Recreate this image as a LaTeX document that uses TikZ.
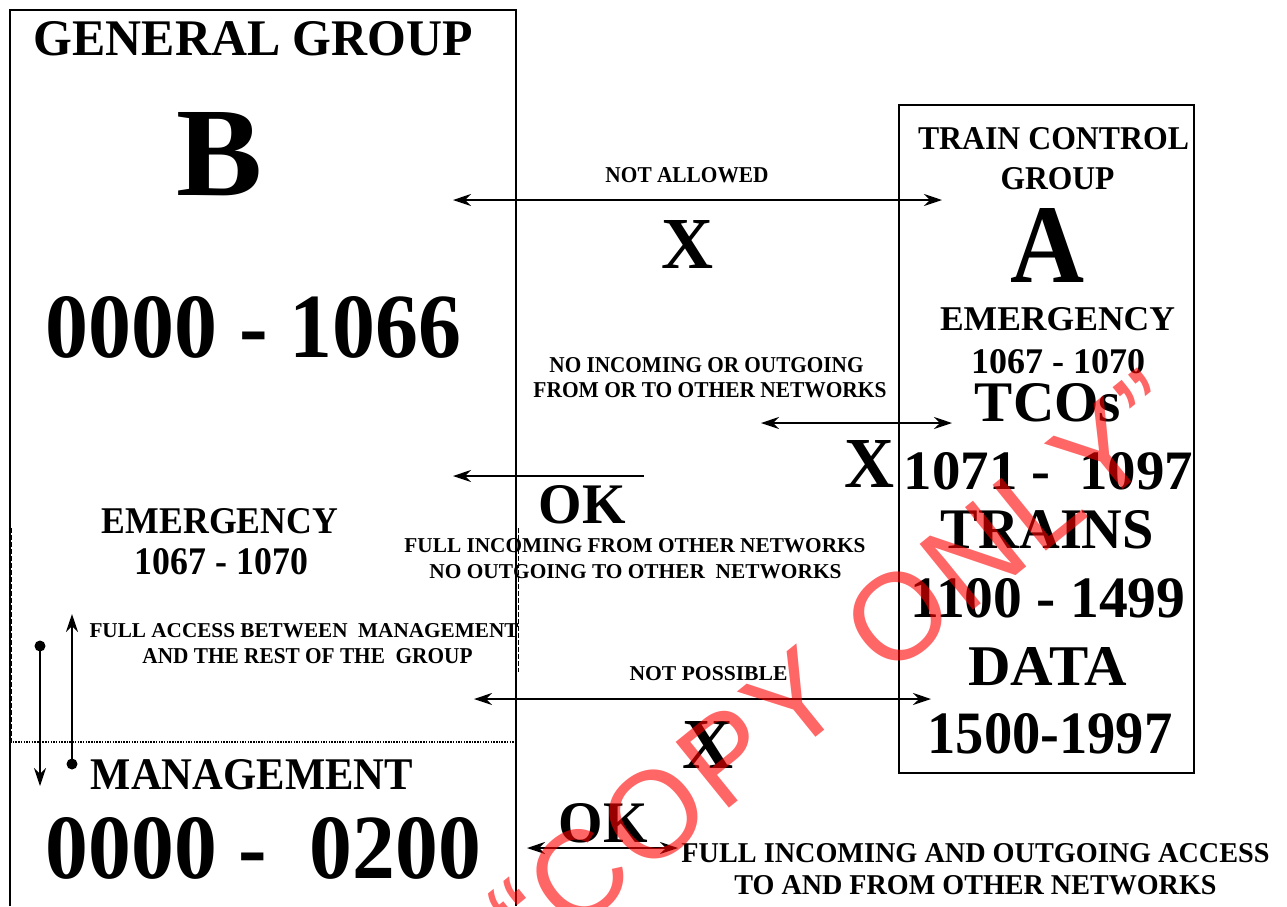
\documentclass[tikz,border=0pt]{standalone}
\usepackage{fontspec}
\setmainfont{Liberation Serif}
\newfontfamily\wmfont{Liberation Sans}
\usepackage{graphicx}
\usetikzlibrary{arrows.meta}
\newcommand{\fitt}[3]{\resizebox{#1pt}{#2pt}{\bfseries #3}}
\newcommand{\wg}{\hspace{5pt}}
\begin{document}
\begin{tikzpicture}[x=1pt,y=-1pt,
  tx/.style={inner sep=0pt, outer sep=0pt, anchor=base},
  frame/.style={line width=1.2pt},
  tipA/.tip={Stealth[length=18pt,width=12pt,inset=6pt]},
  arr/.style={line width=2pt, -tipA},
  darr/.style={line width=2pt, tipA-tipA},
  dotnode/.style={circle, fill=black, inner sep=0pt, minimum size=11pt},
  dotline/.style={line width=2pt, dash pattern=on 1.5pt off 1.2pt},
  dashline/.style={line width=1pt, dash pattern=on 5pt off 2pt},
  wm/.style={text=red, text opacity=0.6, font=\wmfont\fontsize{123}{123}\selectfont, inner sep=0pt, rotate=39}
]
\useasboundingbox (0,0) rectangle (1287,906);
\fill[white] (0,0) rectangle (1287,906);

% general group frame
\coordinate (gtl) at (10,10);
\coordinate (gtr) at (516,10);
\coordinate (gbl) at (10,906);
\coordinate (gbr) at (516,906);
\draw[frame] (gbl) -- (gtl) -- (gtr) -- (gbr);

% emergency / management separators
\coordinate (sepl) at (10,742);
\coordinate (sepr) at (516,742);
\draw[dotline] (sepl) -- (sepr);
\coordinate (dl1) at (11,528);
\coordinate (dl2) at (11,742);
\draw[dashline] (dl1) -- (dl2);
\coordinate (dr1) at (518.5,528);
\coordinate (dr2) at (518.5,672);
\draw[dashline] (dr1) -- (dr2);

% train control group frame
\node[draw, frame, minimum width=295pt, minimum height=668pt, inner sep=0pt] (tcg) at (1046.5,439) {};

% texts left
\node[tx] (t1) at (253.5,55) {\fitt{439}{34}{GENERAL GROUP}};
\node[tx] (t2) at (220,195) {\fitt{86}{83}{B}};
\node[tx] (t3) at (253.5,357) {\fitt{415}{61}{0000 - 1066}};
\node[tx] (t23) at (220,533) {\fitt{236}{25}{EMERGENCY}};
\node[tx] (t24) at (221.5,574) {\fitt{173}{26}{1067 - 1070}};
\node[tx] (t25) at (304,637) {\fitt{429}{14}{FULL ACCESS BETWEEN\ \ MANAGEMENT}};
\node[tx] (t26) at (307.5,663) {\fitt{330}{15}{AND THE REST OF THE\ \ GROUP}};
\node[tx] (t29) at (252,789) {\fitt{322}{30}{MANAGEMENT}};
\node[tx] (t30) at (263.5,878) {\fitt{435}{61}{0000 -\ \ 0200}};

% texts middle
\node[tx] (t4) at (687,182) {\fitt{163}{15}{NOT ALLOWED}};
\node[tx] (t5) at (687.5,268) {\fitt{52}{48}{X}};
\node[tx] (t17) at (706.5,372) {\fitt{314}{15}{NO INCOMING OR OUTGOING}};
\node[tx] (t18) at (710,397) {\fitt{353}{15}{FROM OR TO OTHER NETWORKS}};
\node[tx] (t19) at (869.5,487) {\fitt{50}{47}{X}};
\node[tx] (t20) at (582,523) {\fitt{87}{38}{OK}};
\node[tx] (t21) at (635,552) {\fitt{461}{14}{FULL INCOMING FROM OTHER NETWORKS}};
\node[tx] (t22) at (635.5,578) {\fitt{412}{14}{NO OUTGOING TO OTHER\ \ NETWORKS}};
\node[tx] (t27) at (708.5,680) {\fitt{158}{14}{NOT POSSIBLE}};
\node[tx] (t28) at (708,768) {\fitt{51}{47}{X}};
\node[tx] (t31) at (603,842) {\fitt{89}{39}{OK}};
\node[tx] (t32) at (975.5,862) {\fitt{588}{19}{FULL INCOMING AND OUTGOING ACCESS}};
\node[tx] (t33) at (975.5,894) {\fitt{482}{19}{TO AND FROM OTHER NETWORKS}};

% texts right box
\node[tx] (t6) at (1053.5,149) {\fitt{271}{22}{TRAIN CONTROL}};
\node[tx] (t7) at (1057.5,189) {\fitt{114}{22}{GROUP}};
\node[tx] (t8) at (1048,282) {\fitt{74}{74}{A}};
\node[tx] (t9) at (1057.5,330) {\fitt{235}{23}{EMERGENCY}};
\node[tx] (t10) at (1058,373) {\fitt{174}{24}{1067 - 1070}};
\node[tx] (t11) at (1048,421) {\fitt{146}{38}{TCOs}};
\node[tx] (t12) at (1048.5,489) {\fitt{289}{37}{1071 -\ \ 1097}};
\node[tx] (t13) at (1047.5,548) {\fitt{213}{38}{TRAINS}};
\node[tx] (t14) at (1048,617) {\fitt{275}{39}{1100 - 1499}};
\node[tx] (t15) at (1047.5,685) {\fitt{158}{38}{DATA}};
\node[tx] (t16) at (1050,753) {\fitt{245}{40}{1500-1997}};

% arrows
\coordinate (a1l) at (453,200);
\coordinate (a1r) at (942,200);
\draw[darr] (a1l) -- (a1r);
\coordinate (a2l) at (761,423);
\coordinate (a2r) at (952,423);
\draw[darr] (a2l) -- (a2r);
\coordinate (a3s) at (644,476);
\coordinate (a3e) at (453,476);
\draw[arr] (a3s) -- (a3e);
\coordinate (a4l) at (474,699);
\coordinate (a4r) at (931,699);
\draw[darr] (a4l) -- (a4r);
\coordinate (a5l) at (527,848);
\coordinate (a5r) at (678,848);
\draw[darr] (a5l) -- (a5r);

% management access arrows
\node[dotnode] (d1) at (40,646) {};
\coordinate (d1e) at (40,786);
\draw[arr] (d1.center) -- (d1e);
\node[dotnode] (d2) at (72,764) {};
\coordinate (d2e) at (72,614);
\draw[arr] (d2.center) -- (d2e);

% watermark
\node[wm] (wmk) at (838,665) {“\wg C\wg O\wg P\wg Y\wg\ \wg O\wg N\wg L\wg Y\wg ”};
\end{tikzpicture}
\end{document}
